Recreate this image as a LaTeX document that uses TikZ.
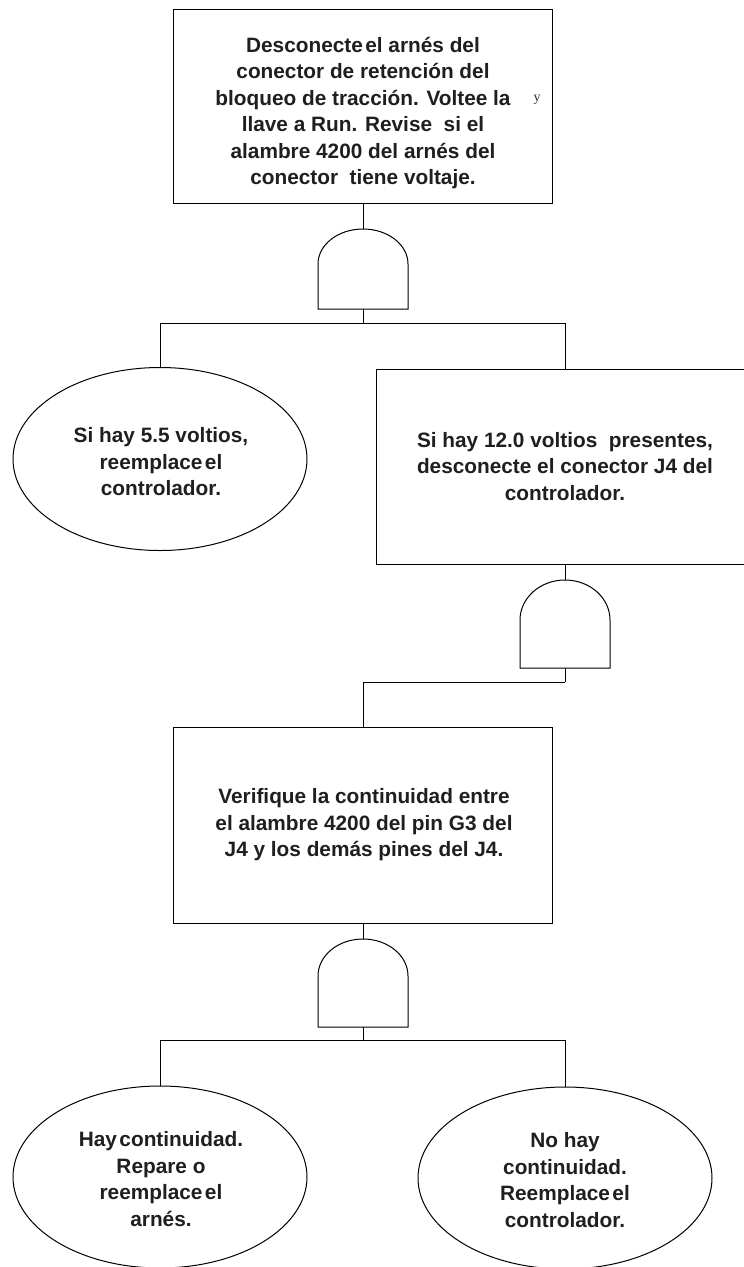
\documentclass[tikz,border=0pt]{standalone}
\usepackage{fontspec}
\setmainfont{Liberation Sans}
\newfontfamily\artfont{Liberation Serif}
\usetikzlibrary{shapes.geometric}
\newcommand\ts{\hspace{0.12em}}
\newcommand\andgate[5]{% name, cx, top y, bottom y, dome height
  \draw[gateline] (#2-45,-#3-#5) arc[start angle=180,end angle=0,x radius=45pt,y radius=#5pt]
    -- (#2+45,-#4) -- (#2-45,-#4) -- cycle;
  \coordinate (#1top) at (#2,-#3);
  \coordinate (#1bot) at (#2,-#4);}
\begin{document}
\begin{tikzpicture}[x=1pt,y=1pt,
  txt/.style={font=\bfseries\fontsize{20.8}{26.5}\selectfont, text=black!88, align=center},
  boxnode/.style={draw, line width=1pt, rectangle, inner sep=0pt},
  ellnode/.style={draw, line width=1pt, ellipse, inner sep=0pt, minimum width=294pt, minimum height=183pt, txt},
  conn/.style={line width=1pt},
  gateline/.style={draw, line width=1pt}]
\useasboundingbox (0,0) rectangle (744,-1267);
\clip (0,0) rectangle (744,-1267);
\fill[white] (0,0) rectangle (744,-1267);

% top box
\node[boxnode, minimum width=379pt, minimum height=194pt] (b1) at (363,-106) {};
\node[txt] (b1t) at (363,-113)
  {Desconecte\ts el arnés del\\conector de retención del\\bloqueo de tracción. Voltee la\\llave a Run. Revise\ \ si el\\alambre 4200 del arnés del\\conector\ \ tiene voltaje.};
\node[font=\artfont\fontsize{14}{14}\selectfont, text=black!80] (art) at (537,-100) {y};

\andgate{g1}{363}{229}{309}{35}
\coordinate (j1) at (363,-323);

% level 2
\node[ellnode] (e1) at (160,-459) {};
\node[txt] (e1t) at (161,-462) {Si hay 5.5 voltios,\\reemplace\ts el\\controlador.};
\node[boxnode, minimum width=378pt, minimum height=195pt] (b2) at (565,-466.5) {};
\node[txt] (b2t) at (565,-466.5)
  {Si hay 12.0 voltios\ \ presentes,\\desconecte el conector J4 del\\controlador.};

\andgate{g2}{565}{580}{668}{40}
\coordinate (j2) at (565,-682);

% level 3
\node[boxnode, minimum width=379pt, minimum height=196pt] (b3) at (363,-825) {};
\node[txt] (b3t) at (364,-825)
  {Verifique la continuidad entre\\el alambre 4200 del pin G3 del\\J4 y los demás pines del J4.};

\andgate{g3}{363}{939}{1027}{37}
\coordinate (j3) at (363,-1040);

% level 4
\node[ellnode, minimum height=182pt] (e3) at (160,-1177) {};
\node[txt] (e3t) at (161,-1179) {Hay\ts continuidad.\\Repare o\\reemplace\ts el\\arnés.};
\node[ellnode, minimum height=182pt] (e4) at (565,-1178) {};
\node[txt] (e4t) at (565,-1180) {No hay\\continuidad.\\Reemplace\ts el\\controlador.};

% connectors
\draw[conn] (b1.south) -- (g1top);
\draw[conn] (g1bot) -- (j1);
\draw[conn] (j1) -| (e1.north);
\draw[conn] (j1) -| (b2.north);
\draw[conn] (b2.south) -- (g2top);
\draw[conn] (g2bot) -- (j2);
\draw[conn] (j2) -| (b3.north);
\draw[conn] (b3.south) -- (g3top);
\draw[conn] (g3bot) -- (j3);
\draw[conn] (j3) -| (e3.north);
\draw[conn] (j3) -| (e4.north);
\end{tikzpicture}
\end{document}
